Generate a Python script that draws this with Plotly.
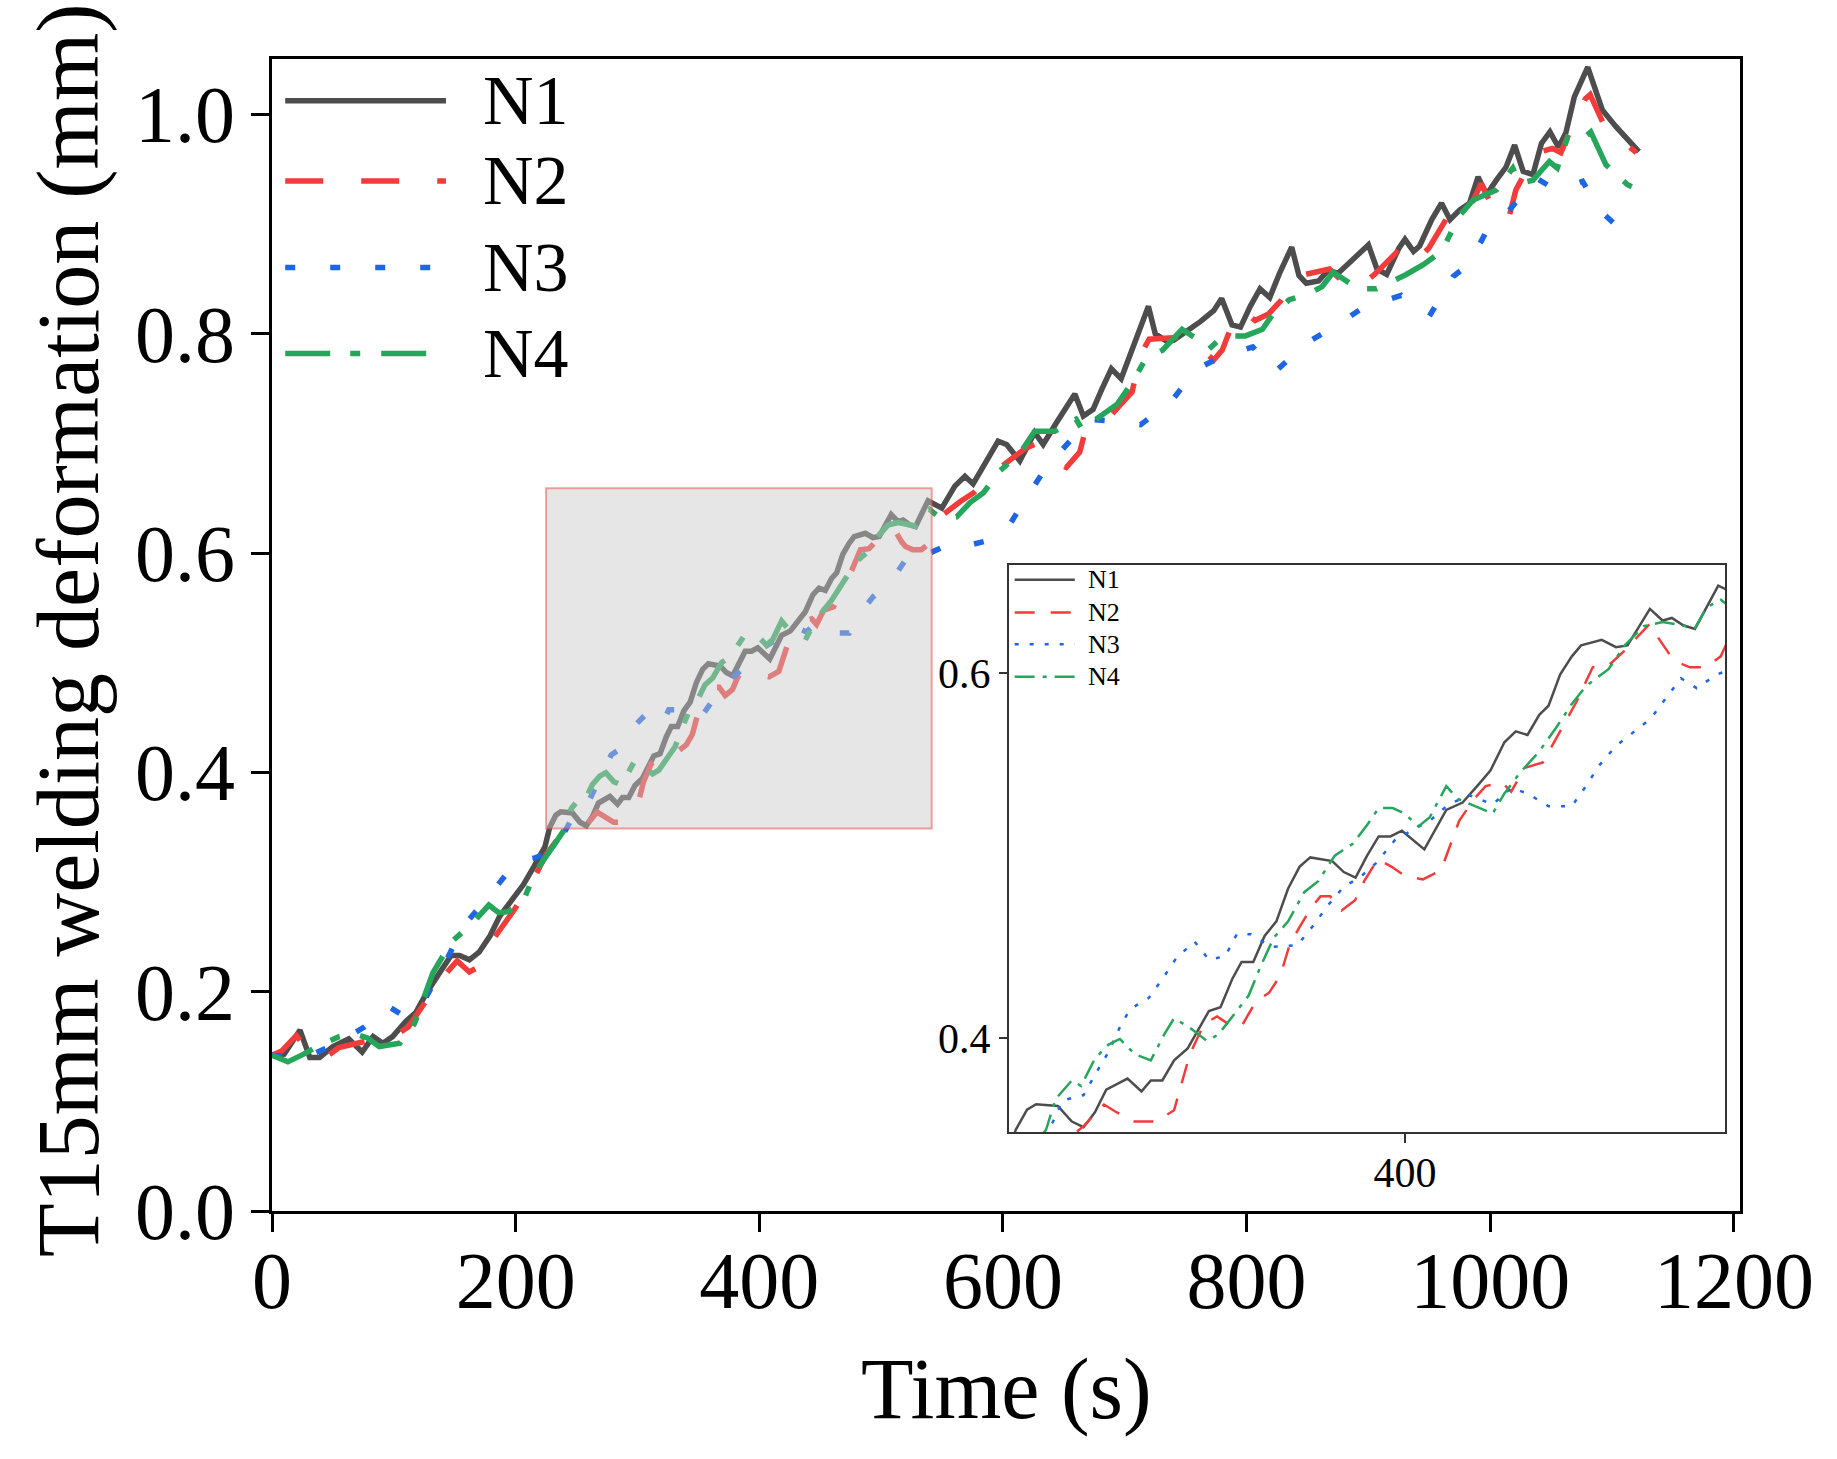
import plotly.graph_objects as go

# time (s) and deformation (mm), one pair of lists per node
n1_t = [0, 10, 23, 31, 39, 50, 63, 74, 83, 91, 99, 110, 118, 127, 138, 147, 154, 162, 170, 179,
        187, 198, 206, 215, 224, 228, 233, 237, 246.6, 252.8, 258, 263, 268, 277.4, 283.6, 287.7,
        292.8, 298, 304, 313.4, 318.5, 323.7, 327.8, 333, 338, 343.2, 348.4, 353.5, 358.2, 367.9,
        373, 378.2, 383.3, 388.4, 393.6, 398.7, 408.6, 418.3, 425.5, 432.6, 437.8, 444, 449, 454.2,
        459.4, 463.5, 468.6, 473.8, 477.9, 487, 493.3, 498.4, 503.6, 508.3, 513.9, 518, 523, 528.2,
        538.5, 549.8, 560.5, 568.8, 575.5, 586.5, 596, 603, 613.8, 626, 633, 644, 659, 666, 674,
        681, 689, 697, 705.5, 713.8, 719.4, 725, 734.5, 740, 751, 762, 773, 779.5, 788, 795, 803,
        811, 819, 827, 837, 843, 849, 859, 867, 875, 900, 907, 915, 925, 930, 937, 942, 952, 960,
        967, 975, 983, 990, 997, 1005, 1013, 1020, 1027, 1035, 1042, 1049, 1056, 1062, 1069, 1080,
        1092, 1103, 1122]
n1_v = [0.142, 0.143, 0.165, 0.140, 0.140, 0.150, 0.157, 0.145, 0.159, 0.153, 0.159, 0.173, 0.181,
        0.199, 0.218, 0.233, 0.233, 0.229, 0.236, 0.251, 0.269, 0.285, 0.297, 0.314, 0.332, 0.350,
        0.361, 0.364, 0.363, 0.3545, 0.3514, 0.3596, 0.372, 0.378, 0.371, 0.377, 0.377, 0.388,
        0.3945, 0.415, 0.417, 0.4325, 0.4418, 0.4418, 0.456, 0.464, 0.482, 0.494, 0.499, 0.497,
        0.491, 0.488, 0.500, 0.5105, 0.5105, 0.5136, 0.5034, 0.525, 0.529, 0.539, 0.5465, 0.562,
        0.568, 0.566, 0.577, 0.582, 0.599, 0.609, 0.615, 0.618, 0.614, 0.615, 0.6255, 0.635,
        0.6286, 0.630, 0.626, 0.624, 0.6477, 0.641, 0.661, 0.670, 0.663, 0.685, 0.702, 0.699,
        0.684, 0.710, 0.699, 0.719, 0.745, 0.725, 0.731, 0.749, 0.768, 0.759, 0.785, 0.809, 0.825,
        0.800, 0.793, 0.794, 0.802, 0.811, 0.821, 0.832, 0.808, 0.806, 0.825, 0.841, 0.833, 0.855,
        0.879, 0.853, 0.846, 0.848, 0.858, 0.855, 0.881, 0.859, 0.854, 0.878, 0.886, 0.875, 0.880,
        0.904, 0.919, 0.904, 0.913, 0.919, 0.943, 0.927, 0.940, 0.952, 0.972, 0.948, 0.945, 0.9735,
        0.984, 0.970, 0.983, 1.016, 1.043, 1.004, 0.989, 0.966]

n2_t = [0, 8, 20, 28, 36, 44, 55, 70, 90, 104, 112, 122, 139, 152, 162, 167, 183, 199, 213, 225,
        235, 248, 258, 267, 272, 280.5, 290, 298, 305, 311.3, 317, 323, 328, 334, 340, 345, 349,
        353.5, 358.6, 362.7, 367, 372, 378, 382, 388, 394, 399.8, 408, 416, 424, 430.6, 435.7, 443,
        447, 453, 461, 465.5, 475.8, 483, 490, 497, 508, 517, 520, 526, 533, 539.6, 548.5, 565, 576,
        588, 600, 610, 618, 626, 632, 640, 652, 663, 667, 679, 689, 706, 713, 720, 734, 750, 762,
        773, 780, 788, 797, 807, 818, 828, 840, 852, 868, 885, 895, 905, 923, 935, 949.5, 966, 972,
        981.6, 992.5, 1000, 1014.4, 1021, 1030, 1035, 1051, 1058, 1067.5, 1078, 1082, 1093.5,
        1115.3, 1120]
n2_v = [0.142, 0.146, 0.160, 0.148, 0.140, 0.140, 0.149, 0.153, 0.159, 0.162, 0.168, 0.185, 0.212,
        0.228, 0.218, 0.221, 0.250, 0.275, 0.299, 0.325, 0.340, 0.342, 0.352, 0.3638, 0.360,
        0.3545, 0.3545, 0.3607, 0.3915, 0.408, 0.412, 0.407, 0.407, 0.420, 0.425, 0.4345, 0.451,
        0.461, 0.4715, 0.4777, 0.4777, 0.470, 0.4756, 0.486, 0.498, 0.494, 0.489, 0.487, 0.492,
        0.519, 0.531, 0.538, 0.540, 0.535, 0.548, 0.551, 0.561, 0.584, 0.603, 0.604, 0.612, 0.6265,
        0.610, 0.606, 0.603, 0.603, 0.609, 0.633, 0.647, 0.655, 0.670, 0.680, 0.688, 0.695, 0.699,
        0.694, 0.684, 0.678, 0.692, 0.709, 0.718, 0.726, 0.747, 0.781, 0.795, 0.796, 0.797, 0.787,
        0.776, 0.785, 0.808, 0.821, 0.812, 0.818, 0.830, 0.852, 0.855, 0.859, 0.841, 0.845, 0.854,
        0.874, 0.862, 0.878, 0.9085, 0.905, 0.911, 0.937, 0.920, 0.902, 0.931, 0.950, 0.964, 0.969,
        0.965, 0.990, 1.014, 1.018, 0.990, 0.969, 0.965]

n3_t = [0, 15, 31, 54, 76, 95, 108, 122, 140, 158, 178, 200, 216, 232, 244.5, 248.6, 258, 263,
        269, 274, 278.5, 286.7, 292.8, 299, 307, 313.4, 320.6, 325.7, 332, 341, 352.5, 359.7,
        365.8, 373, 380, 387.4, 395.6, 404, 411, 419.3, 428.5, 438.8, 447, 454.2, 463.5, 473.8,
        480, 486, 493.3, 500.5, 508.7, 515, 522, 529, 537.5, 550, 562, 575.5, 590, 603, 616.5,
        635.5, 650.5, 671, 692.7, 713, 738, 758, 779, 805, 823, 850, 873, 896, 927, 950, 969.5,
        983, 999.5, 1014.4, 1037.6, 1054, 1075.7, 1089.3, 1118]
n3_v = [0.142, 0.141, 0.142, 0.153, 0.168, 0.187, 0.178, 0.186, 0.222, 0.261, 0.287, 0.318, 0.322,
        0.329, 0.3545, 0.366, 0.369, 0.380, 0.3925, 0.406, 0.416, 0.422, 0.4325, 0.444, 0.453,
        0.443, 0.445, 0.457, 0.457, 0.450, 0.451, 0.462, 0.4725, 0.483, 0.488, 0.496, 0.5085,
        0.5145, 0.519, 0.528, 0.533, 0.528, 0.537, 0.534, 0.527, 0.527, 0.538, 0.5495, 0.560,
        0.567, 0.575, 0.5855, 0.597, 0.5916, 0.5988, 0.605, 0.610, 0.608, 0.612, 0.621, 0.646,
        0.678, 0.696, 0.722, 0.720, 0.717, 0.738, 0.767, 0.779, 0.788, 0.765, 0.792, 0.807, 0.824,
        0.835, 0.816, 0.852, 0.864, 0.899, 0.911, 0.942, 0.931, 0.939, 0.913, 0.884]

n4_t = [0, 13, 26, 39, 55, 66, 78, 88, 105, 117, 132, 147, 165, 178, 186, 194, 206, 216, 231,
        241.4, 245.6, 252.8, 256.9, 263, 269, 274, 280.5, 287.7, 293.9, 298, 305, 312.4, 317.5,
        323.7, 330.9, 336, 342, 348.4, 355.5, 361.7, 369, 377, 383.3, 388.4, 394.6, 399.8, 406,
        411, 418.3, 423.4, 432.6, 438.8, 444, 451, 459.4, 466.6, 473.8, 480, 490, 497.4, 505.6,
        513.9, 520, 528.2, 533.4, 539.6, 548, 562, 573, 584, 597.5, 614, 626, 642.5, 660, 665.5,
        676.5, 694, 708, 717, 731, 747, 758, 769, 781, 799, 813, 821, 835, 852, 862, 871, 891.7,
        906.7, 931, 945, 960, 975, 986, 1005, 1018.5, 1024, 1035, 1048.5, 1055, 1063.5, 1073,
        1082.5, 1095, 1112.5, 1120]
n4_v = [0.142, 0.136, 0.143, 0.151, 0.159, 0.162, 0.158, 0.150, 0.153, 0.171, 0.217, 0.245, 0.263,
        0.279, 0.272, 0.273, 0.282, 0.309, 0.333, 0.350, 0.3668, 0.377, 0.374, 0.389, 0.3966,
        0.3997, 0.3915, 0.388, 0.4028, 0.411, 0.4058, 0.3987, 0.402, 0.412, 0.4233, 0.4387, 0.455,
        0.464, 0.480, 0.486, 0.500, 0.5065, 0.5167, 0.526, 0.526, 0.523, 0.516, 0.521, 0.538,
        0.531, 0.526, 0.523, 0.534, 0.5455, 0.557, 0.5695, 0.583, 0.5927, 0.602, 0.6153, 0.6255,
        0.6278, 0.6265, 0.6245, 0.6358, 0.640, 0.632, 0.633, 0.646, 0.655, 0.675, 0.691, 0.711,
        0.711, 0.722, 0.712, 0.722, 0.736, 0.759, 0.777, 0.785, 0.804, 0.796, 0.786, 0.798, 0.798,
        0.804, 0.817, 0.831, 0.837, 0.843, 0.856, 0.841, 0.841, 0.854, 0.863, 0.875, 0.908, 0.922,
        0.931, 0.951, 0.937, 0.940, 0.957, 0.951, 0.979, 0.975, 0.984, 0.954, 0.936, 0.932]

names = ["N1", "N2", "N3", "N4"]
series = [(n1_t, n1_v), (n2_t, n2_v), (n3_t, n3_v), (n4_t, n4_v)]
colors = ["#4d4d4d", "#f23b3b", "#1f66e5", "#26a65b"]
dash_main = ["solid", "38px,38px", "10px,35px", "45px,20px,10px,21px"]
dash_inset = ["solid", "20px,16px", "4px,11px", "20px,8px,4px,8px"]

# zoom window shown in the inset
zoom_x = [225, 541.5]
zoom_y = [0.3488, 0.659]

FONT = "Liberation Serif, Times New Roman, serif"

fig = go.Figure()

for name, (t, v), c, d in zip(names, series, colors, dash_main):
    fig.add_trace(go.Scatter(x=t, y=v, mode="lines", name=name, showlegend=False,
                             line=dict(color=c, width=5.5, dash=d)))

for name, (t, v), c, d in zip(names, series, colors, dash_inset):
    fig.add_trace(go.Scatter(x=t, y=v, mode="lines", name=name, showlegend=False,
                             xaxis="x2", yaxis="y2",
                             line=dict(color=c, width=2.5, dash=d)))

fig.update_layout(
    width=1837, height=1459,
    margin=dict(l=272, r=97, t=59, b=248),
    paper_bgcolor="white", plot_bgcolor="white",
    font=dict(family=FONT, color="black"),
    xaxis=dict(range=[0, 1205], dtick=200, tick0=0,
               showline=True, linecolor="black", linewidth=3, mirror=True,
               ticks="outside", ticklen=18, tickwidth=3, tickcolor="black",
               tickfont=dict(size=80, family=FONT), showgrid=False, zeroline=False,
               ticklabelstandoff=-20),
    yaxis=dict(range=[0, 1.0505], dtick=0.2, tick0=0, tickformat=".1f",
               showline=True, linecolor="black", linewidth=3, mirror=True,
               ticks="outside", ticklen=18, tickwidth=3, tickcolor="black",
               tickfont=dict(size=80, family=FONT), showgrid=False, zeroline=False,
               ticklabelstandoff=0),
    xaxis2=dict(domain=[0.502, 0.9898], anchor="y2", range=zoom_x, dtick=200, tick0=0,
                showline=True, linecolor="#333333", linewidth=2, mirror=True,
                ticks="outside", ticklen=9, tickwidth=2, tickcolor="#333333",
                tickfont=dict(size=42, family=FONT), showgrid=False, zeroline=False,
                ticklabelstandoff=-6),
    yaxis2=dict(domain=[0.0686, 0.5608], anchor="x2", range=zoom_y, dtick=0.2, tick0=0,
                tickformat=".1f",
                showline=True, linecolor="#333333", linewidth=2, mirror=True,
                ticks="outside", ticklen=8, tickwidth=2, tickcolor="#333333",
                tickfont=dict(size=42, family=FONT), showgrid=False, zeroline=False),
)

# shaded box marking the zoomed region on the main axes
fig.add_shape(type="rect", xref="x", yref="y", layer="above",
              x0=zoom_x[0], x1=zoom_x[1], y0=zoom_y[0], y1=zoom_y[1],
              fillcolor="rgba(202,202,202,0.47)",
              line=dict(color="rgba(240,70,70,0.5)", width=2))

# legends drawn by hand so the key lines are as long as in the original
main_rows = [0.9638, 0.8941, 0.8190, 0.7444]
inset_rows = [0.974, 0.916, 0.860, 0.803]
for i, name in enumerate(names):
    fig.add_shape(type="line", xref="x domain", yref="y domain",
                  x0=0.009, x1=0.1185, y0=main_rows[i], y1=main_rows[i],
                  line=dict(color=colors[i], width=5.5, dash=dash_main[i]))
    fig.add_annotation(xref="x domain", yref="y domain", x=0.1424, y=main_rows[i],
                       text=name, showarrow=False, xanchor="left", yanchor="middle",
                       font=dict(size=70, family=FONT, color="black"))
    fig.add_shape(type="line", xref="x2 domain", yref="y2 domain",
                  x0=0.008, x1=0.092, y0=inset_rows[i], y1=inset_rows[i],
                  line=dict(color=colors[i], width=2.5, dash=dash_inset[i]))
    fig.add_annotation(xref="x2 domain", yref="y2 domain", x=0.108, y=inset_rows[i],
                       text=name, showarrow=False, xanchor="left", yanchor="middle",
                       font=dict(size=26, family=FONT, color="black"))

# axis titles
fig.add_annotation(xref="paper", yref="paper", x=0.5, y=-0.1545, text="Time (s)",
                   showarrow=False, xanchor="center", yanchor="middle",
                   font=dict(size=86, family=FONT, color="black"))
fig.add_annotation(xref="paper", yref="paper", x=-0.1385, y=0.504,
                   text="T15mm welding deformation (mm)", textangle=-90,
                   showarrow=False, xanchor="center", yanchor="middle",
                   font=dict(size=88, family=FONT, color="black"))

fig.write_html("out.html", config={"displayModeBar": False},
               post_script="document.body.style.margin='0';")
